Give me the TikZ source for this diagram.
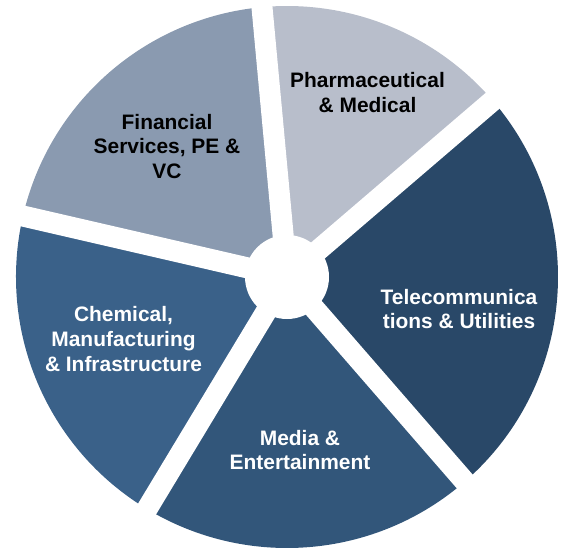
\documentclass[tikz,border=0pt]{standalone}
\usepackage{fontspec}
\setmainfont{Liberation Sans}
\definecolor{finc}{HTML}{8A9AB0}
\definecolor{phac}{HTML}{B8BECB}
\definecolor{telc}{HTML}{294868}
\definecolor{medc}{HTML}{32567A}
\definecolor{chec}{HTML}{3A6189}
\begin{document}
\begin{tikzpicture}[x=1bp,y=-1bp,
  lbl/.style={font=\bfseries\fontsize{21}{24.7}\selectfont, align=center, inner sep=0pt},
  gapline/.style={white, line width=21bp},
]
\useasboundingbox (0,0) rectangle (566,549);
\coordinate (C) at (287,277);
\def\R{271}
% sectors
\fill[finc] (C) -- ++(193:\R) arc[start angle=193, end angle=264.7, radius=\R] -- cycle;
\fill[phac] (C) -- ++(-95.3:\R) arc[start angle=-95.3, end angle=-40.6, radius=\R] -- cycle;
\fill[telc] (C) -- ++(-40.6:\R) arc[start angle=-40.6, end angle=49, radius=\R] -- cycle;
\fill[medc] (C) -- ++(49:\R) arc[start angle=49, end angle=121.1, radius=\R] -- cycle;
\fill[chec] (C) -- ++(121.1:\R) arc[start angle=121.1, end angle=193, radius=\R] -- cycle;
% gaps
\foreach \a in {-95.3,-40.6,49,121.1,193}
  \draw[gapline] (C) -- ++(\a:290);
\fill[white] (C) circle[radius=42];
% labels
\node[lbl, text=black] (fin) at (167,146.5) {Financial\\Services, PE \&\\VC};
\node[lbl, text=black] (pha) at (367.5,92.5) {Pharmaceutical\\\& Medical};
\node[lbl, text=white] (tel) at (459,309) {Telecommunica\\tions \& Utilities};
\node[lbl, text=white] (med) at (300,450) {Media \&\\Entertainment};
\node[lbl, text=white] (che) at (123.5,339) {Chemical,\\Manufacturing\\\& Infrastructure};
\end{tikzpicture}
\end{document}
